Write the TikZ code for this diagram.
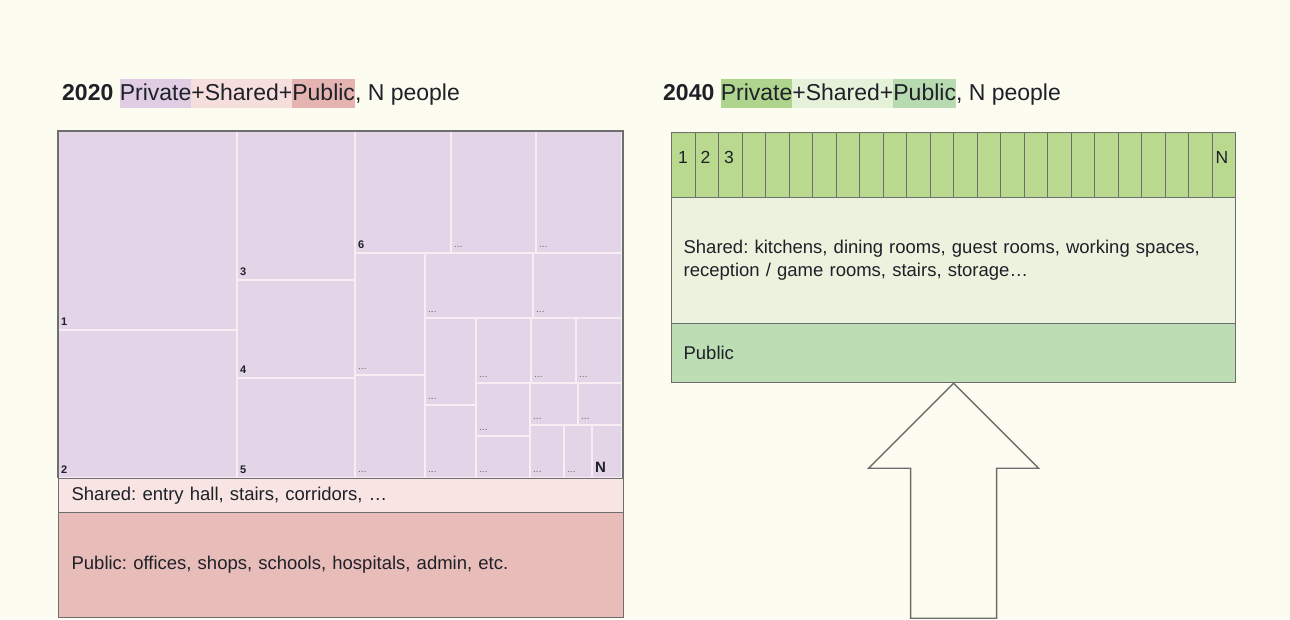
\documentclass[tikz,border=0pt]{standalone}
\usepackage{fontspec}
\setmainfont{Liberation Sans}
\usepackage{xcolor}
\usetikzlibrary{positioning,calc}
\definecolor{PaperCream}{HTML}{FCFCF1}
\definecolor{InkDark}{HTML}{1F2028}
\definecolor{EdgeGrey}{HTML}{6E6E6E}
\definecolor{PrivLilac}{HTML}{E4D4E7}
\definecolor{CellLine}{HTML}{F7EEF4}
\definecolor{ShareRose}{HTML}{F8E4E2}
\definecolor{PubRose}{HTML}{E8BDB9}
\definecolor{HlLilac}{HTML}{E0CDE3}
\definecolor{HlRose}{HTML}{F6DEDC}
\definecolor{HlRed}{HTML}{E5B4B1}
\definecolor{PrivGreen}{HTML}{B9D98F}
\definecolor{ShareGreen}{HTML}{EBF3DE}
\definecolor{PubGreen}{HTML}{BDDDB5}
\definecolor{HlGreen}{HTML}{AED48E}
\definecolor{HlPale}{HTML}{E6F1DA}
\definecolor{HlMint}{HTML}{B8DAB0}
\newcommand{\hlt}[2]{{\setlength{\fboxsep}{0pt}\colorbox{#1}{\rule[-8pt]{0pt}{29pt}#2}}}
\frenchspacing

\begin{document}
\begin{tikzpicture}[
      x=1pt, y=-1pt, text=InkDark,
      ttl/.style={anchor=base west, inner sep=0pt,
                  font=\fontsize{23}{27}\selectfont},
      cell/.style={fill=PrivLilac, draw=CellLine, line width=1.4pt},
      num/.style={anchor=base west, inner sep=0pt,
                  font=\bfseries\fontsize{11}{12}\selectfont},
      dots/.style={anchor=base west, inner sep=0pt, text=black!60,
                   font=\fontsize{10}{10}\selectfont},
      band/.style={rectangle, draw=EdgeGrey, line width=1.2pt,
                   anchor=north west, align=left, inner xsep=13pt,
                   font=\fontsize{18.5}{23}\selectfont},
      slot/.style={rectangle, draw=EdgeGrey, line width=1.2pt,
                   fill=PrivGreen, anchor=north west, inner sep=0pt,
                   minimum width=23.5pt, minimum height=65pt},
      slab/.style={anchor=west, inner sep=0pt,
                   font=\fontsize{17.5}{20}\selectfont},
      edge/.style={draw=EdgeGrey, line width=1.2pt},
      bigarrow/.style={draw=EdgeGrey, line width=1.4pt, fill=PaperCream,
                       line join=miter},
    ]
      \fill[PaperCream] (0,0) rectangle (1290,619);
      \useasboundingbox (0,0) rectangle (1290,619);

      % titles
      \node[ttl] (ttl20) at (62,100) {\textbf{2020}
        \hlt{HlLilac}{Private}\hlt{HlRose}{+Shared+}\hlt{HlRed}{Public},
        N people};
      \node[ttl] (ttl40) at (663,100) {\textbf{2040}
        \hlt{HlGreen}{Private}\hlt{HlPale}{+Shared+}\hlt{HlMint}{Public},
        N people};

      % 2020: private flats as a treemap
      \foreach \xa/\ya/\xb/\yb/\lab in {58/131/237/330/1, 58/330/237/478/2,
          237/131/355/280/3, 237/280/355/378/4, 237/378/355/478/5,
          355/131/451/253/6}{
        \draw[cell] (\xa,\ya) rectangle (\xb,\yb);
        \node[num] (flat\lab) at (\xa+3,\yb-5) {\lab};
      }
      \foreach \xa/\ya/\xb/\yb [count=\k] in {451/131/536/253,
          536/131/622/253, 355/253/425/375, 355/375/425/478,
          425/253/533/318, 533/253/622/318, 425/318/476/405,
          425/405/476/478, 476/318/531/383, 531/318/576/383,
          576/318/622/383, 476/383/530/436, 476/436/530/478,
          530/383/578/425, 578/383/622/425, 530/425/564/478,
          564/425/592/478}{
        \draw[cell] (\xa,\ya) rectangle (\xb,\yb);
        \node[dots] (more\k) at (\xa+3,\yb-6) {...};
      }
      \draw[cell] (592,425) rectangle (622,478);
      \node[num, font=\bfseries\fontsize{15}{16}\selectfont]
        (flatN) at (595,472) {N};
      \draw[edge] (58,478) -- (58,131) -- (623,131) -- (623,478);

      \node[band, fill=ShareRose, minimum width=565pt, minimum height=34pt,
            text width=539pt] (shr20) at (58,478)
            {Shared: entry hall, stairs, corridors, …};
      \node[band, fill=PubRose, minimum width=565pt, minimum height=105pt,
            text width=539pt] (pub20) at (58,512)
            {Public: offices, shops, schools, hospitals, admin, etc.};

      % 2040: one row of rooms, big shared layer
      \foreach \i in {1,...,24}{
        \node[slot] (room\i) at (671+23.5*\i-23.5,132) {};
      }
      \node[slab] (rl1) at ([xshift=7pt,yshift=-25pt]room1.north west) {1};
      \node[slab] (rl2) at ([xshift=6pt,yshift=-25pt]room2.north west) {2};
      \node[slab] (rl3) at ([xshift=6pt,yshift=-25pt]room3.north west) {3};
      \node[slab] (rlN) at ([xshift=4pt,yshift=-25pt]room24.north west) {N};

      \node[band, fill=ShareGreen, minimum width=564pt, minimum height=126pt,
            text width=540pt, inner xsep=12pt] (shr40) at (671,197)
            {Shared: kitchens, dining rooms, guest rooms, working spaces,\\
             reception / game rooms, stairs, storage…};
      \node[band, fill=PubGreen, minimum width=564pt, minimum height=59pt,
            text width=540pt, inner xsep=12pt] (pub40) at (671,323)
            {Public};

      \draw[bigarrow] (pub40.south) -- ++(85,85) -- ++(-42,0) -- ++(0,150)
                      -- ++(-86,0) -- ++(0,-150) -- ++(-42,0) -- cycle;
    \end{tikzpicture}
\end{document}
